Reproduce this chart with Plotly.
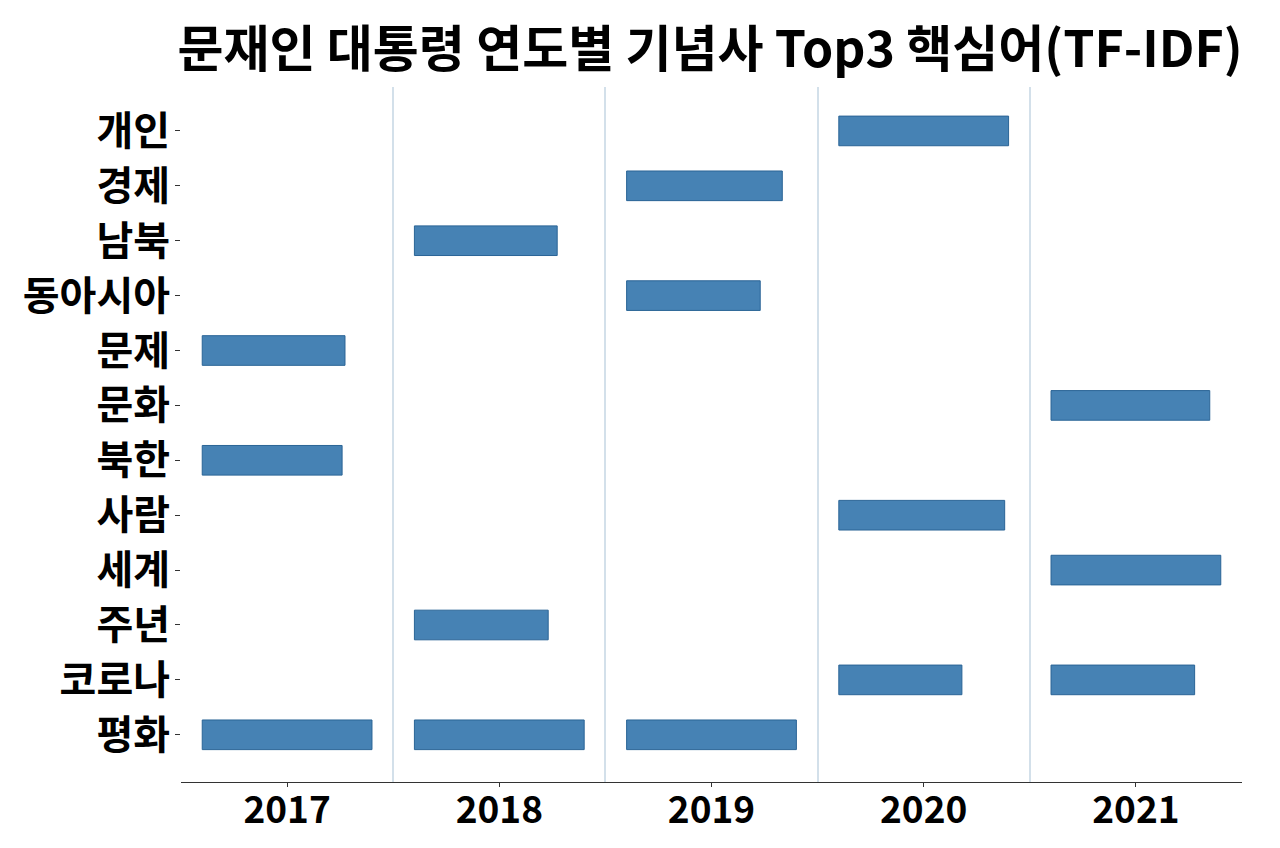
import plotly.graph_objects as go

years = ["2017", "2018", "2019", "2020", "2021"]
words = ["개인", "경제", "남북", "동아시아", "문제", "문화", "북한", "사람", "세계", "주년", "코로나", "평화"]

# Top-3 keywords per year and their relative TF-IDF score (year max = 1.0)
year_words = {
    "2017": ["평화", "문제", "북한"],
    "2018": ["평화", "남북", "주년"],
    "2019": ["평화", "경제", "동아시아"],
    "2020": ["개인", "사람", "코로나"],
    "2021": ["세계", "문화", "코로나"],
}
year_scores = {
    "2017": [1.000, 0.841, 0.824],
    "2018": [1.000, 0.841, 0.788],
    "2019": [1.000, 0.917, 0.787],
    "2020": [1.000, 0.977, 0.725],
    "2021": [1.000, 0.935, 0.846],
}

BAR_SPAN = 0.8  # fraction of a year's band used by the longest bar
FONT = "Noto Sans CJK KR"

fig = go.Figure()
for i, yr in enumerate(years):
    fig.add_trace(go.Bar(
        orientation="h",
        y=year_words[yr],
        x=[s * BAR_SPAN for s in year_scores[yr]],
        base=i - 0.4,
        width=0.54,
        marker=dict(color="#4682B4", line=dict(color="#2a6496", width=1)),
        showlegend=False,
        hoverinfo="skip",
    ))

fig.update_layout(
    width=1264, height=832,
    margin=dict(l=173, r=30, t=79, b=58, autoexpand=False),
    paper_bgcolor="white", plot_bgcolor="white",
    barmode="overlay",
    title=dict(
        text="<b>문재인 대통령 연도별 기념사 Top3 핵심어(TF-IDF)</b>",
        x=0.5554, xanchor="center", y=0.950, yanchor="middle",
        font=dict(family=FONT, size=50, color="black"),
    ),
    font=dict(family=FONT, color="black"),
)

fig.update_xaxes(
    range=[-0.5, 4.5], automargin=False,
    tickmode="array", tickvals=list(range(len(years))),
    ticktext=[f"<b>{y}</b>" for y in years],
    tickfont=dict(family=FONT, size=37, color="black"),
    ticks="outside", ticklen=4, tickcolor="#333333",
    ticklabelstandoff=-9,
    showgrid=False, zeroline=False,
    showline=True, linecolor="#333333", linewidth=1.2,
    minor=dict(tickvals=[-0.5, 0.5, 1.5, 2.5, 3.5], showgrid=True,
               gridcolor="#d3e0ea", gridwidth=1.5, ticks=""),
)

fig.update_yaxes(
    type="category", automargin=False,
    categoryorder="array", categoryarray=words,
    range=[11.86, -0.8],
    tickfont=dict(family=FONT, size=40, color="black"),
    tickvals=words, ticktext=[f"<b>{w}</b>" for w in words],
    ticks="outside", ticklen=5, tickcolor="#333333",
    ticklabelstandoff=-3,
    showgrid=False, zeroline=False, showline=False,
)

fig.write_html("out.html")
